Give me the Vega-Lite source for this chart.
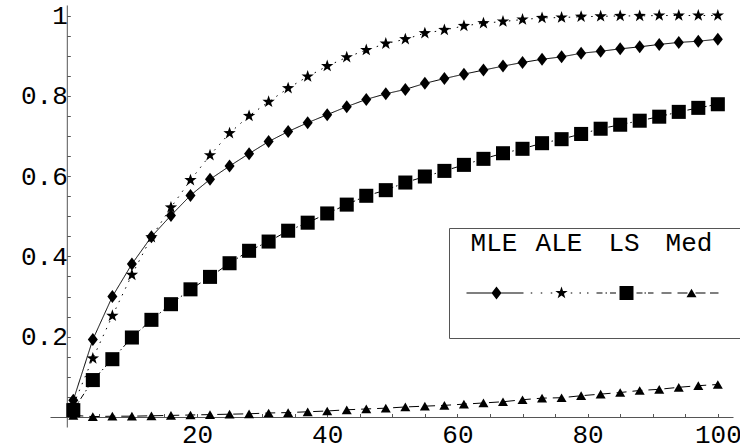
{
  "$schema": "https://vega.github.io/schema/vega-lite/v6.json",
  "width": 683,
  "height": 422,
  "autosize": {"type": "none"},
  "padding": {"left": 50, "top": 5, "right": 7, "bottom": 20},
  "background": "white",
  "config": {"view": {"stroke": null}},
  "data": {
    "values": [
      {"x": 1, "MLE": 0.042, "ALE": 0.03, "LS": 0.017, "Med": 0.004},
      {"x": 4, "MLE": 0.193, "ALE": 0.146, "LS": 0.092, "Med": 0.001},
      {"x": 7, "MLE": 0.300, "ALE": 0.252, "LS": 0.144, "Med": 0.002},
      {"x": 10, "MLE": 0.381, "ALE": 0.354, "LS": 0.198, "Med": 0.002},
      {"x": 13, "MLE": 0.449, "ALE": 0.448, "LS": 0.242, "Med": 0.003},
      {"x": 16, "MLE": 0.502, "ALE": 0.522, "LS": 0.281, "Med": 0.004},
      {"x": 19, "MLE": 0.552, "ALE": 0.590, "LS": 0.318, "Med": 0.005},
      {"x": 22, "MLE": 0.592, "ALE": 0.652, "LS": 0.349, "Med": 0.006},
      {"x": 25, "MLE": 0.625, "ALE": 0.707, "LS": 0.383, "Med": 0.007},
      {"x": 28, "MLE": 0.656, "ALE": 0.750, "LS": 0.414, "Med": 0.008},
      {"x": 31, "MLE": 0.686, "ALE": 0.785, "LS": 0.437, "Med": 0.010},
      {"x": 34, "MLE": 0.711, "ALE": 0.819, "LS": 0.464, "Med": 0.011},
      {"x": 37, "MLE": 0.733, "ALE": 0.848, "LS": 0.484, "Med": 0.013},
      {"x": 40, "MLE": 0.753, "ALE": 0.874, "LS": 0.507, "Med": 0.015},
      {"x": 43, "MLE": 0.773, "ALE": 0.896, "LS": 0.529, "Med": 0.018},
      {"x": 46, "MLE": 0.791, "ALE": 0.914, "LS": 0.551, "Med": 0.020},
      {"x": 49, "MLE": 0.805, "ALE": 0.930, "LS": 0.565, "Med": 0.022},
      {"x": 52, "MLE": 0.816, "ALE": 0.941, "LS": 0.584, "Med": 0.025},
      {"x": 55, "MLE": 0.831, "ALE": 0.956, "LS": 0.599, "Med": 0.027},
      {"x": 58, "MLE": 0.843, "ALE": 0.964, "LS": 0.613, "Med": 0.029},
      {"x": 61, "MLE": 0.854, "ALE": 0.974, "LS": 0.628, "Med": 0.032},
      {"x": 64, "MLE": 0.864, "ALE": 0.981, "LS": 0.643, "Med": 0.035},
      {"x": 67, "MLE": 0.874, "ALE": 0.985, "LS": 0.657, "Med": 0.038},
      {"x": 70, "MLE": 0.883, "ALE": 0.990, "LS": 0.668, "Med": 0.043},
      {"x": 73, "MLE": 0.891, "ALE": 0.994, "LS": 0.682, "Med": 0.047},
      {"x": 76, "MLE": 0.897, "ALE": 0.995, "LS": 0.692, "Med": 0.048},
      {"x": 79, "MLE": 0.906, "ALE": 0.997, "LS": 0.705, "Med": 0.053},
      {"x": 82, "MLE": 0.911, "ALE": 0.998, "LS": 0.718, "Med": 0.057},
      {"x": 85, "MLE": 0.917, "ALE": 0.999, "LS": 0.728, "Med": 0.061},
      {"x": 88, "MLE": 0.922, "ALE": 0.999, "LS": 0.738, "Med": 0.066},
      {"x": 91, "MLE": 0.928, "ALE": 1.0, "LS": 0.748, "Med": 0.069},
      {"x": 94, "MLE": 0.933, "ALE": 1.0, "LS": 0.760, "Med": 0.074},
      {"x": 97, "MLE": 0.936, "ALE": 1.0, "LS": 0.770, "Med": 0.078},
      {"x": 100, "MLE": 0.941, "ALE": 1.0, "LS": 0.779, "Med": 0.081}
    ]
  },
  "transform": [{"fold": ["MLE", "ALE", "LS", "Med"], "as": ["method", "value"]}],
  "encoding": {
    "x": {
      "field": "x", "type": "quantitative",
      "scale": {"domain": [-2.58, 102.33], "nice": false, "zero": false},
      "axis": {
        "orient": "bottom", "offset": -10, "title": null, "grid": false,
        "values": [5, 10, 15, 20, 25, 30, 35, 40, 45, 50, 55, 60, 65, 70, 75, 80, 85, 90, 95, 100],
        "labelExpr": "datum.value % 20 === 0 ? datum.label : ''",
        "tickSize": -3.5,
        "domainColor": "#555", "tickColor": "#555", "tickWidth": 1,
        "labelFont": "Liberation Mono", "labelFontSize": 26, "labelColor": "black",
        "labelPadding": 8, "labelFlush": false, "labelOverlap": false
      }
    },
    "y": {
      "field": "value", "type": "quantitative",
      "scale": {"domain": [-0.0249, 1.0262], "nice": false, "zero": false},
      "axis": {
        "orient": "left", "offset": -16.8, "title": null, "grid": false, "format": "~g",
        "values": [0.05, 0.1, 0.15, 0.2, 0.25, 0.3, 0.35, 0.4, 0.45, 0.5, 0.55, 0.6, 0.65, 0.7, 0.75, 0.8, 0.85, 0.9, 0.95, 1],
        "labelExpr": "round(datum.value * 100) % 20 === 0 ? datum.label : ''",
        "tickSize": -3.5,
        "domainColor": "#555", "tickColor": "#555", "tickWidth": 1,
        "labelFont": "Liberation Mono", "labelFontSize": 26, "labelColor": "black",
        "labelPadding": 3, "labelFlush": false, "labelOverlap": false
      }
    }
  },
  "layer": [
    {
      "mark": {"type": "line", "color": "black", "strokeWidth": 1},
      "encoding": {
        "detail": {"field": "method"},
        "strokeDash": {
          "field": "method",
          "scale": {"domain": ["ALE", "LS", "MLE", "Med"], "range": [[1.5, 6], [6, 3, 1.5, 3], [1, 0], [10, 6]]},
          "legend": null
        }
      }
    },
    {
      "mark": {"type": "point", "filled": true, "color": "black", "opacity": 1, "size": 169},
      "encoding": {
        "shape": {
          "field": "method",
          "scale": {
            "domain": ["ALE", "LS", "MLE", "Med"],
            "range": [
              "M0,-1L0.235,-0.324L0.951,-0.309L0.38,0.124L0.588,0.809L0,0.4L-0.588,0.809L-0.38,0.124L-0.951,-0.309L-0.235,-0.324Z",
              "M-1.08,-1.08L1.08,-1.08L1.08,1.08L-1.08,1.08Z",
              "M0,-1L0.77,0L0,1L-0.77,0Z",
              "M0,-0.67L0.77,0.67L-0.77,0.67Z"
            ]
          },
          "legend": null
        }
      }
    },
    {
      "transform": [{"filter": "datum.x > 1000"}],
      "mark": {"type": "point", "filled": true, "color": "black", "opacity": 1},
      "encoding": {
        "shape": {
          "field": "method",
          "scale": {
            "domain": ["MLE", "ALE", "LS", "Med"],
            "range": [
              "M1.577,7.0L1.577,7.0M-0.731,3.808L3.654,3.808L3.654,3.885L-0.731,3.885ZM1.577,3.346L1.962,3.846L1.577,4.346L1.192,3.846Z",
              "M1.577,7.0L1.577,7.0M-0.789,3.808L-0.673,3.808L-0.673,3.885L-0.789,3.885ZM-0.019,3.808L0.097,3.808L0.097,3.885L-0.019,3.885ZM0.75,3.808L0.866,3.808L0.866,3.885L0.75,3.885ZM2.288,3.808L2.404,3.808L2.404,3.885L2.288,3.885ZM2.96,3.808L3.076,3.808L3.076,3.885L2.96,3.885ZM3.538,3.808L3.654,3.808L3.654,3.885L3.538,3.885ZM1.577,3.346L1.6945,3.684L2.0525,3.6915L1.767,3.908L1.871,4.2505L1.577,4.046L1.283,4.2505L1.387,3.908L1.1015,3.6915L1.4595,3.684Z",
              "M1.577,7.0L1.577,7.0M-0.731,3.808L-0.269,3.808L-0.269,3.885L-0.731,3.885ZM-0.038,3.808L0.077,3.808L0.077,3.885L-0.038,3.885ZM0.308,3.808L0.769,3.808L0.769,3.885L0.308,3.885ZM2.346,3.808L2.808,3.808L2.808,3.885L2.346,3.885ZM2.96,3.808L3.075,3.808L3.075,3.885L2.96,3.885ZM3.23,3.808L3.654,3.808L3.654,3.885L3.23,3.885ZM1.039,3.308L2.115,3.308L2.115,4.384L1.039,4.384Z",
              "M5.3,7.0L5.3,7.0M-0.731,3.808L0.039,3.808L0.039,3.885L-0.731,3.885ZM0.5,3.808L1.269,3.808L1.269,3.885L0.5,3.885ZM1.885,3.808L2.654,3.808L2.654,3.885L1.885,3.885ZM3.0,3.808L3.654,3.808L3.654,3.885L3.0,3.885ZM1.577,3.513L1.962,4.179L1.192,4.179Z"
            ]
          },
          "legend": {
            "orient": "none", "legendX": 399, "legendY": 223, "direction": "horizontal",
            "title": " ", "titleOrient": "left", "titlePadding": 12, "titleFontSize": 1,
            "strokeColor": "#555", "fillColor": "white", "padding": 1,
            "symbolSize": 676, "columnPadding": 0, "symbolOpacity": 1,
            "labelFont": "Liberation Mono", "labelFontSize": 26, "labelColor": "black",
            "labelAlign": "center", "labelBaseline": "middle", "labelOffset": 4
          }
        }
      }
    }
  ],
  "resolve": {
    "scale": {"shape": "independent"},
    "legend": {"shape": "independent"}
  }
}
